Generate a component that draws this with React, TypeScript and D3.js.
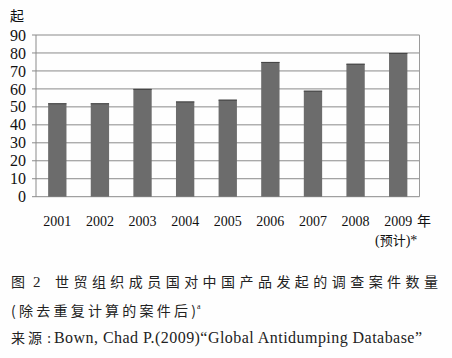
import React from "react";
import * as d3 from "d3";

const years = ["2001", "2002", "2003", "2004", "2005", "2006", "2007", "2008", "2009"];
const cases = [52, 52, 60, 53, 54, 75, 59, 74, 80];
const yTicks = [0, 10, 20, 30, 40, 50, 60, 70, 80, 90];

const W = 452;
const H = 358;
const left = 36;
const right = 419.5;
const top = 35;
const bottom = 196.7;

const serif = "Liberation Serif, Times New Roman, serif";
const cjk = "Noto Sans CJK SC, sans-serif";

export default function App() {
  const x = d3.scaleBand<string>().domain(years).range([left, right]).paddingInner(0.57).paddingOuter(0.285);
  const y = d3.scaleLinear().domain([0, 90]).range([bottom, top]);

  return (
    <svg
      width={W}
      height={H}
      viewBox={`0 0 ${W} ${H}`}
      style={{ position: "absolute", left: 0, top: 0, background: "#fff" }}
    >
      <rect x={0} y={0} width={W} height={H} fill="#fefefe" />
      {/* unit */}
      <text x={10} y={21} fontFamily={cjk} fontSize={14} fill="#111">起</text>
      {/* gridlines */}
      {yTicks.map((t) => (
        <line key={t} x1={32} x2={right} y1={y(t)} y2={y(t)} stroke="#8a8a8a" strokeWidth={1} />
      ))}
      {/* axis & border */}
      <line x1={left} x2={left} y1={top} y2={bottom} stroke="#8a8a8a" strokeWidth={1} />
      <line x1={right} x2={right} y1={top} y2={bottom} stroke="#9a9a9a" strokeWidth={1} />
      {/* y labels */}
      {yTicks.map((t) => (
        <text key={t} x={26} y={y(t)} dy="0.35em" textAnchor="end" fontFamily={serif} fontSize={16} fill="#111">
          {t}
        </text>
      ))}
      {/* bars */}
      {years.map((yr, i) => (
        <g key={yr}>
          <rect x={x(yr)} y={y(cases[i])} width={x.bandwidth()} height={bottom - y(cases[i])} fill="#6c6c6c" />
          <line x1={x(yr)} x2={(x(yr) as number) + x.bandwidth()} y1={y(cases[i]) + 0.5} y2={y(cases[i]) + 0.5} stroke="#444" strokeWidth={1} />
        </g>
      ))}
      {/* x labels */}
      {years.map((yr) => (
        <text key={yr} x={(x(yr) as number) + x.bandwidth() / 2} y={226} textAnchor="middle" fontFamily={serif} fontSize={14} fill="#111">
          {yr}
        </text>
      ))}
      <text x={417} y={226} fontFamily={cjk} fontSize={14} fill="#111">年</text>
      <text x={375} y={245} fontFamily={serif} fontSize={14} fill="#111">
        (<tspan fontFamily={cjk} fontSize={13}>预计</tspan>)*
      </text>
      {/* caption */}
      <text x={11} y={287} fontFamily={cjk} fontSize={14} fill="#222">图</text>
      <text x={33} y={287} fontFamily={serif} fontSize={15} fill="#222">2</text>
      <text x={55} y={287} fontFamily={cjk} fontSize={14} fill="#222" textLength={383} lengthAdjust="spacing">
        世贸组织成员国对中国产品发起的调查案件数量
      </text>
      <text x={11} y={316} fontFamily={cjk} fontSize={14} fill="#222" textLength={185} lengthAdjust="spacing">
        (除去重复计算的案件后)
      </text>
      <text x={197} y={309} fontFamily={serif} fontSize={8} fill="#222">a</text>
      <text x={11} y={343} fontFamily={cjk} fontSize={14} fill="#222" letterSpacing={3}>来源</text>
      <text x={47} y={343} fontFamily={serif} fontSize={15} fill="#222">:</text>
      <text x={54} y={343} fontFamily={serif} fontSize={16} fill="#222" textLength={368} lengthAdjust="spacing">
        Bown, Chad P.(2009)“Global Antidumping Database”
      </text>
    </svg>
  );
}
